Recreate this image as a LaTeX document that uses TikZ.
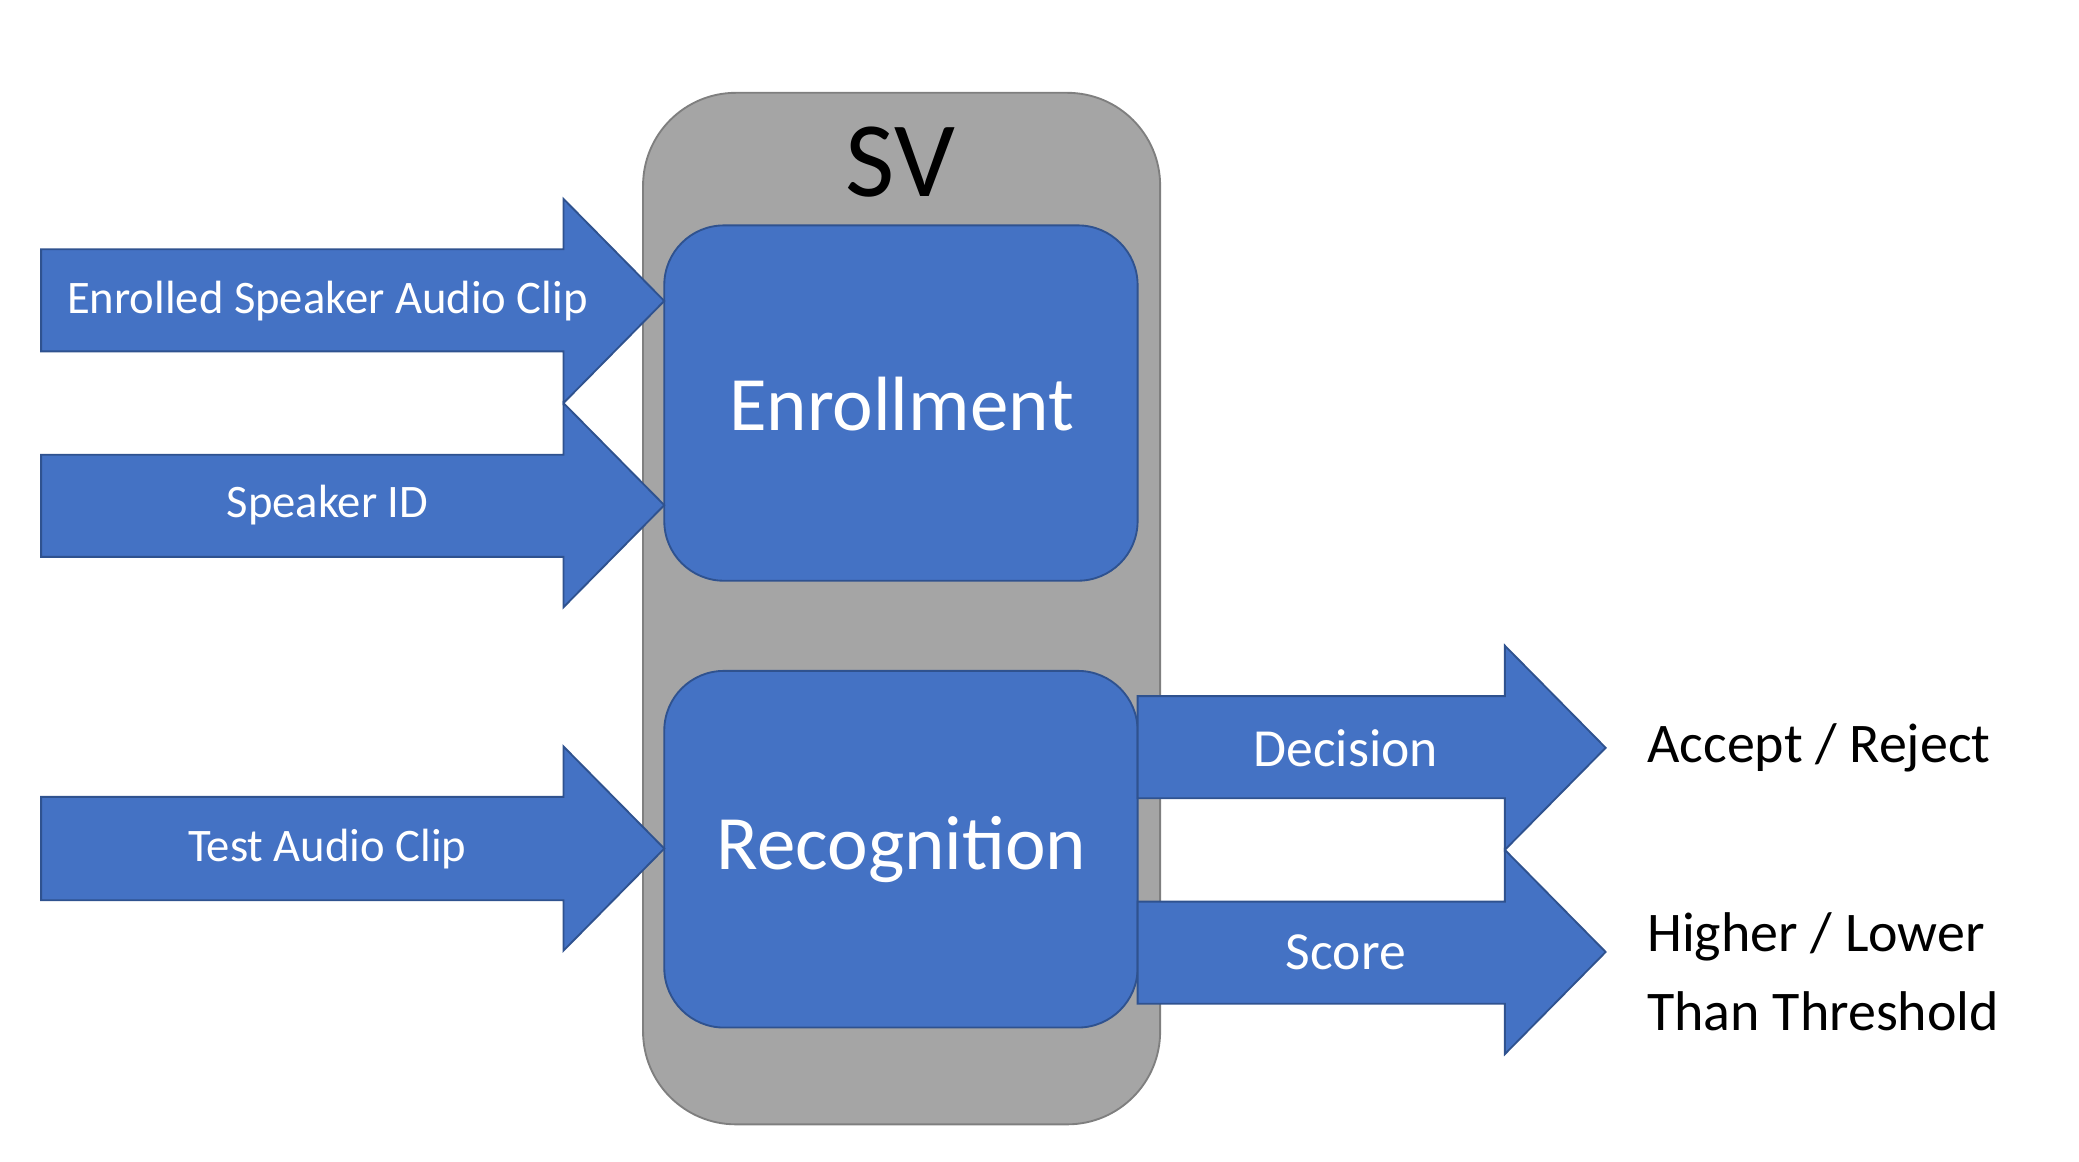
\documentclass[tikz,border=0pt]{standalone}
\usepackage{fontspec}
\setmainfont{Carlito}
\definecolor{blu}{HTML}{4472C4}
\definecolor{blud}{HTML}{2F528F}
\definecolor{gry}{HTML}{A5A5A5}
\definecolor{gryd}{HTML}{7F7F7F}
\begin{document}
\begin{tikzpicture}[x=0.01cm,y=-0.01cm,
  arr/.style={fill=blu,draw=blud,line width=0.4pt},
  lab/.style={text=white,font=\fontsize{10}{12}\selectfont},
  big/.style={text=white,font=\fontsize{16.5}{20}\selectfont},
  outtxt/.style={text=black,anchor=west,align=left,font=\fontsize{12}{17}\selectfont}]
\useasboundingbox (0,0) rectangle (1568,876);
\draw[fill=gry,draw=gryd,line width=0.4pt,rounded corners=0.7cm] (485,70) rectangle (875,848);
\node[font=\fontsize{23}{26}\selectfont] (sv) at (679,122) {SV};
\draw[arr,rounded corners=0.45cm] (501,170) rectangle (858,438);
\node[big] (enr) at (680,305) {Enrollment};
\draw[arr,rounded corners=0.45cm] (501,506) rectangle (858,775);
\node[big] (rec) at (680,641) {Recognition};
% input arrows
\draw[arr] (31,188) -- (425,188) -- (425,150) -- (501,227) -- (425,304) -- (425,265) -- (31,265) -- cycle;
\node[lab] (a1) at (247,227) {Enrolled Speaker Audio Clip};
\draw[arr] (31,343) -- (425,343) -- (425,304) -- (501,381) -- (425,458) -- (425,420) -- (31,420) -- cycle;
\node[lab] (a2) at (247,381) {Speaker ID};
\draw[arr] (31,601) -- (425,601) -- (425,563) -- (501,640) -- (425,717) -- (425,679) -- (31,679) -- cycle;
\node[lab] (a3) at (247,640) {Test Audio Clip};
% output arrows
\draw[arr] (858,525) -- (1135,525) -- (1135,487) -- (1211,564) -- (1135,641) -- (1135,602) -- (858,602) -- cycle;
\node[lab,font=\fontsize{11.5}{14}\selectfont] (d) at (1015,564) {Decision};
\draw[arr] (858,680) -- (1135,680) -- (1135,641) -- (1211,718) -- (1135,795) -- (1135,757) -- (858,757) -- cycle;
\node[lab,font=\fontsize{11.5}{14}\selectfont] (s) at (1015,718) {Score};
\node[outtxt] (o1) at (1230,564) {Accept / Reject};
\node[outtxt] (o2) at (1230,733) {Higher / Lower\\Than Threshold};
\end{tikzpicture}
\end{document}
